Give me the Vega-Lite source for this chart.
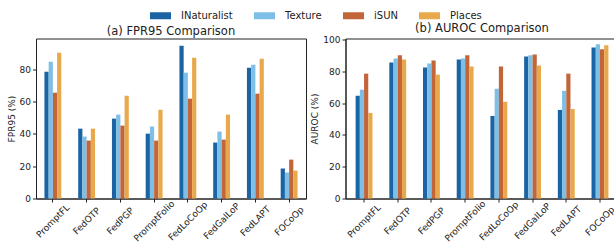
{
  "$schema": "https://vega.github.io/schema/vega-lite/v6.json",
  "autosize": {"type": "pad"},
  "padding": {"left": 6, "top": 4.5, "right": 0, "bottom": 0},
  "background": "white",
  "datasets": {
    "fpr": [
      {"m": "PromptFL", "d": "INaturalist", "v": 78.6},
      {"m": "PromptFL", "d": "Texture", "v": 84.8},
      {"m": "PromptFL", "d": "iSUN", "v": 65.6},
      {"m": "PromptFL", "d": "Places", "v": 90.3},
      {"m": "FedOTP", "d": "INaturalist", "v": 43.3},
      {"m": "FedOTP", "d": "Texture", "v": 38.4},
      {"m": "FedOTP", "d": "iSUN", "v": 35.9},
      {"m": "FedOTP", "d": "Places", "v": 43.3},
      {"m": "FedPGP", "d": "INaturalist", "v": 49.5},
      {"m": "FedPGP", "d": "Texture", "v": 52.0},
      {"m": "FedPGP", "d": "iSUN", "v": 45.2},
      {"m": "FedPGP", "d": "Places", "v": 63.7},
      {"m": "PromptFolio", "d": "INaturalist", "v": 40.2},
      {"m": "PromptFolio", "d": "Texture", "v": 44.6},
      {"m": "PromptFolio", "d": "iSUN", "v": 35.9},
      {"m": "PromptFolio", "d": "Places", "v": 55.0},
      {"m": "FedLoCoOp", "d": "INaturalist", "v": 94.7},
      {"m": "FedLoCoOp", "d": "Texture", "v": 78.0},
      {"m": "FedLoCoOp", "d": "iSUN", "v": 61.9},
      {"m": "FedLoCoOp", "d": "Places", "v": 87.3},
      {"m": "FedGalLoP", "d": "INaturalist", "v": 34.7},
      {"m": "FedGalLoP", "d": "Texture", "v": 41.5},
      {"m": "FedGalLoP", "d": "iSUN", "v": 36.5},
      {"m": "FedGalLoP", "d": "Places", "v": 52.0},
      {"m": "FedLAPT", "d": "INaturalist", "v": 81.0},
      {"m": "FedLAPT", "d": "Texture", "v": 82.9},
      {"m": "FedLAPT", "d": "iSUN", "v": 65.0},
      {"m": "FedLAPT", "d": "Places", "v": 86.6},
      {"m": "FOCoOp", "d": "INaturalist", "v": 18.6},
      {"m": "FOCoOp", "d": "Texture", "v": 16.1},
      {"m": "FOCoOp", "d": "iSUN", "v": 24.1},
      {"m": "FOCoOp", "d": "Places", "v": 17.3}
    ],
    "auroc": [
      {"m": "PromptFL", "d": "INaturalist", "v": 64.6},
      {"m": "PromptFL", "d": "Texture", "v": 68.4},
      {"m": "PromptFL", "d": "iSUN", "v": 78.5},
      {"m": "PromptFL", "d": "Places", "v": 53.8},
      {"m": "FedOTP", "d": "INaturalist", "v": 85.5},
      {"m": "FedOTP", "d": "Texture", "v": 88.0},
      {"m": "FedOTP", "d": "iSUN", "v": 90.0},
      {"m": "FedOTP", "d": "Places", "v": 87.4},
      {"m": "FedPGP", "d": "INaturalist", "v": 82.3},
      {"m": "FedPGP", "d": "Texture", "v": 84.9},
      {"m": "FedPGP", "d": "iSUN", "v": 86.8},
      {"m": "FedPGP", "d": "Places", "v": 77.9},
      {"m": "PromptFolio", "d": "INaturalist", "v": 87.4},
      {"m": "PromptFolio", "d": "Texture", "v": 88.0},
      {"m": "PromptFolio", "d": "iSUN", "v": 90.0},
      {"m": "PromptFolio", "d": "Places", "v": 83.0},
      {"m": "FedLoCoOp", "d": "INaturalist", "v": 51.9},
      {"m": "FedLoCoOp", "d": "Texture", "v": 69.0},
      {"m": "FedLoCoOp", "d": "iSUN", "v": 83.0},
      {"m": "FedLoCoOp", "d": "Places", "v": 60.8},
      {"m": "FedGalLoP", "d": "INaturalist", "v": 89.3},
      {"m": "FedGalLoP", "d": "Texture", "v": 90.0},
      {"m": "FedGalLoP", "d": "iSUN", "v": 90.6},
      {"m": "FedGalLoP", "d": "Places", "v": 83.6},
      {"m": "FedLAPT", "d": "INaturalist", "v": 55.7},
      {"m": "FedLAPT", "d": "Texture", "v": 67.7},
      {"m": "FedLAPT", "d": "iSUN", "v": 78.5},
      {"m": "FedLAPT", "d": "Places", "v": 56.3},
      {"m": "FOCoOp", "d": "INaturalist", "v": 95.0},
      {"m": "FOCoOp", "d": "Texture", "v": 97.0},
      {"m": "FOCoOp", "d": "iSUN", "v": 93.8},
      {"m": "FOCoOp", "d": "Places", "v": 96.3}
    ]
  },
  "config": {
    "font": "DejaVu Sans",
    "view": {"stroke": "#222", "strokeWidth": 1},
    "axis": {
      "labelFont": "DejaVu Sans", "labelFontSize": 9, "labelColor": "#222",
      "titleFont": "DejaVu Sans", "titleFontSize": 9, "titleFontWeight": "normal", "titleColor": "#222",
      "tickColor": "#222", "domainColor": "#222", "tickSize": 3.5, "grid": false, "labelPadding": 2
    },
    "title": {"font": "DejaVu Sans", "fontSize": 11.5, "fontWeight": "normal", "color": "#222", "offset": 1},
    "legend": {
      "labelFont": "DejaVu Sans", "labelFontSize": 10, "labelColor": "#222",
      "symbolType": "M-1,-0.333H1V0.333H-1Z", "symbolSize": 441, "symbolStrokeWidth": 0,
      "labelOffset": 10, "columnPadding": 21
    }
  },
  "hconcat": [
    {
      "data": {"name": "fpr"},
      "width": 270,
      "height": 160,
      "title": "(a)  FPR95 Comparison",
      "mark": {"type": "bar"},
      "encoding": {
        "x": {
          "field": "m", "type": "nominal",
          "sort": ["PromptFL", "FedOTP", "FedPGP", "PromptFolio", "FedLoCoOp", "FedGalLoP", "FedLAPT", "FOCoOp"],
          "scale": {"paddingInner": 0.5, "paddingOuter": 0.25},
          "axis": {"title": null, "labelAngle": -45, "labelAlign": "center", "labelBaseline": "middle", "labelPadding": 18.5}
        },
        "xOffset": {"field": "d", "type": "nominal", "sort": ["INaturalist", "Texture", "iSUN", "Places"], "scale": {"paddingInner": 0, "paddingOuter": 0}},
        "y": {
          "field": "v", "type": "quantitative",
          "scale": {"domain": [0, 99.2], "nice": false},
          "axis": {"title": "FPR95 (%)", "values": [0, 20, 40, 60, 80], "titlePadding": 3}
        },
        "color": {
          "field": "d", "type": "nominal",
          "sort": ["INaturalist", "Texture", "iSUN", "Places"],
          "scale": {"domain": ["INaturalist", "Texture", "iSUN", "Places"], "range": ["#1a64a4", "#7dbfe6", "#c2663a", "#e8a94c"]},
          "legend": {"title": null, "orient": "none", "direction": "horizontal", "legendX": 114, "legendY": -33.5}
        }
      }
    },
    {
      "data": {"name": "auroc"},
      "width": 273,
      "height": 160,
      "title": "(b) AUROC Comparison",
      "mark": {"type": "bar"},
      "encoding": {
        "x": {
          "field": "m", "type": "nominal",
          "sort": ["PromptFL", "FedOTP", "FedPGP", "PromptFolio", "FedLoCoOp", "FedGalLoP", "FedLAPT", "FOCoOp"],
          "scale": {"paddingInner": 0.5, "paddingOuter": 0.3},
          "axis": {"title": null, "labelAngle": -45, "labelAlign": "center", "labelBaseline": "middle", "labelPadding": 18.5}
        },
        "xOffset": {"field": "d", "type": "nominal", "sort": ["INaturalist", "Texture", "iSUN", "Places"], "scale": {"paddingInner": 0, "paddingOuter": 0}},
        "y": {
          "field": "v", "type": "quantitative",
          "scale": {"domain": [0, 100.6], "nice": false},
          "axis": {"title": "AUROC (%)", "values": [0, 20, 40, 60, 80, 100], "titlePadding": 3}
        },
        "color": {
          "field": "d", "type": "nominal",
          "sort": ["INaturalist", "Texture", "iSUN", "Places"],
          "scale": {"domain": ["INaturalist", "Texture", "iSUN", "Places"], "range": ["#1a64a4", "#7dbfe6", "#c2663a", "#e8a94c"]}
        }
      }
    }
  ],
  "bounds": "flush",
  "spacing": 39.5
}
